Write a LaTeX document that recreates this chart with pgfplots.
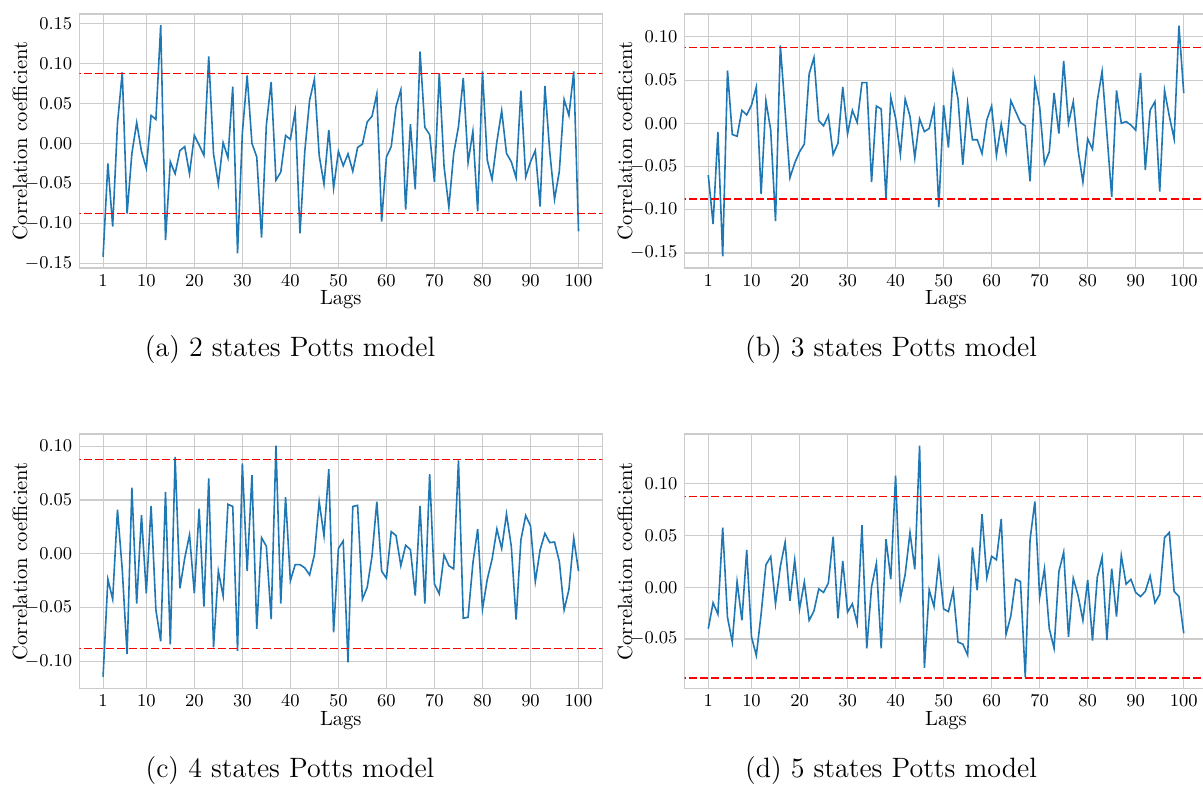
\documentclass[border=0pt]{standalone}
\usepackage{pgfplots}
\pgfplotsset{compat=1.18}
\definecolor{tabblue}{HTML}{1F77B4}
\definecolor{gridc}{gray}{0.8}
\definecolor{refred}{RGB}{255,0,0}
\pgfplotsset{acf/.style={
  scale only axis, width=261.5pt, height=127pt,
  xmin=-3.95, xmax=104.95,
  xtick={1,10,20,30,40,50,60,70,80,90,100},
  ytick={-0.15,-0.1,-0.05,0,0.05,0.1,0.15},
  grid=major, major grid style={color=gridc, line width=0.55pt},
  axis line style={color=gridc, line width=0.6pt},
  tick style={draw=none}, major tick length=0pt,
  tick label style={font=\fontsize{9}{10}\selectfont},
  yticklabel style={/pgf/number format/.cd, fixed, fixed zerofill, precision=2},
  label style={font=\fontsize{10.3}{12}\selectfont},
  xlabel={Lags}, ylabel={Correlation coefficient},
  xlabel style={at={(axis description cs:0.5,0)}, anchor=center, yshift=-16pt},
  ylabel style={at={(axis description cs:-0.1134,0.5)}, anchor=center, rotate=0},
  clip=true,
}}
\newcommand{\bounds}{%
\addplot[draw=refred, line width=0.7pt, dash pattern=on 4pt off 1.6pt, forget plot] coordinates {(-10,-0.0877) (120,-0.0877)};%
\addplot[draw=refred, line width=0.7pt, dash pattern=on 4pt off 1.6pt, forget plot] coordinates {(-10,0.0877) (120,0.0877)};}
\begin{document}
\begin{tikzpicture}
% (a)
\begin{axis}[acf, at={(39.65pt,-134pt)}, anchor=south west, ymin=-0.156, ymax=0.162]
\addplot[tabblue, line width=0.8pt] coordinates {
(1,-0.142) (2,-0.025) (3,-0.104) (4,0.025) (5,0.089) (6,-0.088) (7,-0.0125) (8,0.026) (9,-0.010) (10,-0.031)
(11,0.035) (12,0.030) (13,0.148) (14,-0.121) (15,-0.023) (16,-0.038) (17,-0.009) (18,-0.004) (19,-0.038) (20,0.010)
(21,-0.002) (22,-0.015) (23,0.109) (24,-0.013) (25,-0.051) (26,0.001) (27,-0.018) (28,0.071) (29,-0.1375) (30,0.0125)
(31,0.085) (32,0.000) (33,-0.017) (34,-0.118) (35,0.023) (36,0.077) (37,-0.046) (38,-0.036) (39,0.010) (40,0.005)
(41,0.040) (42,-0.1125) (43,-0.010) (44,0.054) (45,0.080) (46,-0.015) (47,-0.051) (48,0.017) (49,-0.056) (50,-0.010)
(51,-0.028) (52,-0.013) (53,-0.035) (54,-0.005) (55,-0.001) (56,0.027) (57,0.034) (58,0.062) (59,-0.098) (60,-0.017)
(61,-0.004) (62,0.046) (63,0.067) (64,-0.083) (65,0.024) (66,-0.0575) (67,0.115) (68,0.020) (69,0.011) (70,-0.048)
(71,0.088) (72,-0.029) (73,-0.080) (74,-0.013) (75,0.021) (76,0.082) (77,-0.024) (78,0.015) (79,-0.085) (80,0.090)
(81,-0.021) (82,-0.045) (83,0.002) (84,0.041) (85,-0.0125) (86,-0.023) (87,-0.043) (88,0.066) (89,-0.042) (90,-0.023)
(91,-0.009) (92,-0.079) (93,0.072) (94,-0.010) (95,-0.070) (96,-0.035) (97,0.055) (98,0.035) (99,0.090) (100,-0.110)
};
\bounds
\end{axis}
% (b)
\begin{axis}[acf, at={(342.25pt,-134pt)}, anchor=south west, ymin=-0.1674, ymax=0.1264]
\addplot[tabblue, line width=0.8pt] coordinates {
(1,-0.060) (2,-0.1165) (3,-0.010) (4,-0.154) (5,0.061) (6,-0.013) (7,-0.015) (8,0.015) (9,0.0096) (10,0.021)
(11,0.042) (12,-0.082) (13,0.026) (14,-0.008) (15,-0.113) (16,0.090) (17,0.015) (18,-0.063) (19,-0.046) (20,-0.033)
(21,-0.024) (22,0.057) (23,0.076) (24,0.003) (25,-0.003) (26,0.009) (27,-0.036) (28,-0.023) (29,0.042) (30,-0.012)
(31,0.015) (32,0.001) (33,0.047) (34,0.047) (35,-0.068) (36,0.020) (37,0.0165) (38,-0.087) (39,0.030) (40,0.006)
(41,-0.036) (42,0.028) (43,0.008) (44,-0.040) (45,0.005) (46,-0.0096) (47,-0.006) (48,0.018) (49,-0.097) (50,0.021)
(51,-0.028) (52,0.058) (53,0.028) (54,-0.048) (55,0.023) (56,-0.019) (57,-0.019) (58,-0.035) (59,0.004) (60,0.020)
(61,-0.037) (62,-0.001) (63,-0.033) (64,0.026) (65,0.0135) (66,0.001) (67,-0.003) (68,-0.067) (69,0.049) (70,0.019)
(71,-0.047) (72,-0.033) (73,0.035) (74,-0.012) (75,0.072) (76,0.000) (77,0.025) (78,-0.031) (79,-0.068) (80,-0.018)
(81,-0.030) (82,0.026) (83,0.060) (84,-0.012) (85,-0.085) (86,0.038) (87,0.000) (88,0.002) (89,-0.002) (90,-0.008)
(91,0.058) (92,-0.054) (93,0.015) (94,0.025) (95,-0.079) (96,0.038) (97,0.008) (98,-0.018) (99,0.113) (100,0.035)
};
\bounds
\end{axis}
% (c)
\begin{axis}[acf, at={(39.65pt,-344.15pt)}, anchor=south west, height=127.15pt, ymin=-0.1247, ymax=0.1112]
\addplot[tabblue, line width=0.8pt] coordinates {
(1,-0.114) (2,-0.0235) (3,-0.042) (4,0.041) (5,-0.015) (6,-0.093) (7,0.0615) (8,-0.046) (9,0.036) (10,-0.0365)
(11,0.0445) (12,-0.052) (13,-0.081) (14,0.0575) (15,-0.084) (16,0.090) (17,-0.032) (18,-0.004) (19,0.0176) (20,-0.0365)
(21,0.042) (22,-0.049) (23,0.070) (24,-0.0866) (25,-0.016) (26,-0.039) (27,0.046) (28,0.044) (29,-0.090) (30,0.084)
(31,-0.016) (32,0.073) (33,-0.0696) (34,0.015) (35,0.007) (36,-0.0606) (37,0.1005) (38,-0.046) (39,0.0526) (40,-0.025)
(41,-0.010) (42,-0.010) (43,-0.013) (44,-0.0195) (45,-0.001) (46,0.0485) (47,0.0167) (48,0.0785) (49,-0.0727) (50,0.005)
(51,0.012) (52,-0.1005) (53,0.044) (54,0.045) (55,-0.042) (56,-0.031) (57,-0.002) (58,0.0485) (59,-0.016) (60,-0.0226)
(61,0.0207) (62,0.017) (63,-0.011) (64,0.008) (65,0.004) (66,-0.0387) (67,0.0445) (68,-0.046) (69,0.074) (70,-0.028)
(71,-0.037) (72,-0.001) (73,-0.011) (74,-0.014) (75,0.0866) (76,-0.0597) (77,-0.0588) (78,-0.0087) (79,0.023) (80,-0.0513)
(81,-0.0235) (82,-0.005) (83,0.023) (84,0.005) (85,0.037) (86,0.007) (87,-0.061) (88,0.013) (89,0.0356) (90,0.026)
(91,-0.0257) (92,0.0037) (93,0.019) (94,0.0105) (95,0.011) (96,-0.007) (97,-0.052) (98,-0.033) (99,0.0145) (100,-0.016)
};
\bounds
\end{axis}
% (d)
\begin{axis}[acf, at={(342.25pt,-344.15pt)}, anchor=south west, height=127.15pt, ymin=-0.0977, ymax=0.1482]
\addplot[tabblue, line width=0.8pt] coordinates {
(1,-0.040) (2,-0.015) (3,-0.026) (4,0.0577) (5,-0.029) (6,-0.053) (7,0.0055) (8,-0.032) (9,0.036) (10,-0.048)
(11,-0.066) (12,-0.026) (13,0.0216) (14,0.0297) (15,-0.016) (16,0.020) (17,0.0435) (18,-0.013) (19,0.0265) (20,-0.021)
(21,0.005) (22,-0.032) (23,-0.023) (24,-0.0016) (25,-0.005) (26,0.004) (27,0.049) (28,-0.030) (29,0.0255) (30,-0.024)
(31,-0.016) (32,-0.035) (33,0.060) (34,-0.059) (35,0.0006) (36,0.023) (37,-0.059) (38,0.0465) (39,0.008) (40,0.108)
(41,-0.0106) (42,0.0126) (43,0.053) (44,0.0174) (45,0.137) (46,-0.078) (47,-0.0026) (48,-0.0187) (49,0.0255) (50,-0.021)
(51,-0.0235) (52,-0.003) (53,-0.053) (54,-0.055) (55,-0.0655) (56,0.0384) (57,-0.003) (58,0.0706) (59,0.0094) (60,0.030)
(61,0.0265) (62,0.066) (63,-0.0455) (64,-0.0277) (65,0.0077) (66,0.0055) (67,-0.0865) (68,0.046) (69,0.083) (70,-0.0097)
(71,0.018) (72,-0.040) (73,-0.059) (74,0.015) (75,0.034) (76,-0.048) (77,0.0087) (78,-0.008) (79,-0.032) (80,0.007)
(81,-0.0516) (82,0.0097) (83,0.029) (84,-0.051) (85,0.018) (86,-0.0284) (87,0.0306) (88,0.003) (89,0.0077) (90,-0.005)
(91,-0.009) (92,-0.004) (93,0.011) (94,-0.015) (95,-0.0068) (96,0.048) (97,0.053) (98,-0.004) (99,-0.009) (100,-0.0445)
};
\bounds
\end{axis}
\node[font=\fontsize{14}{17}\selectfont] at (145pt,-175pt) {(a) 2 states Potts model};
\node[font=\fontsize{14}{17}\selectfont] at (445.5pt,-175pt) {(b) 3 states Potts model};
\node[font=\fontsize{14}{17}\selectfont] at (145pt,-385pt) {(c) 4 states Potts model};
\node[font=\fontsize{14}{17}\selectfont] at (445.5pt,-385pt) {(d) 5 states Potts model};
\pgfresetboundingbox
\useasboundingbox (0,0) rectangle (601.5pt,-393.5pt);
\end{tikzpicture}
\end{document}
